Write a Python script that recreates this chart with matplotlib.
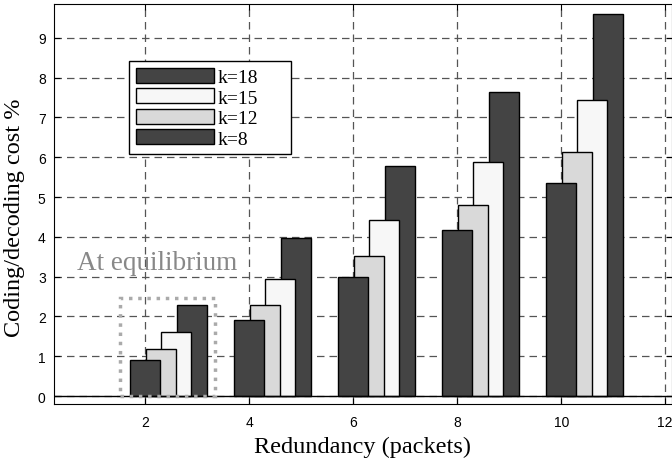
import matplotlib
matplotlib.use("Agg")
import matplotlib.pyplot as plt
from matplotlib.patches import Rectangle

# values
redundancy = [2, 4, 6, 8, 10]
cost_k8 = [0.90, 1.90, 2.99, 4.18, 5.36]
cost_k12 = [1.17, 2.28, 3.51, 4.79, 6.12]
cost_k15 = [1.61, 2.93, 4.42, 5.88, 7.45]
cost_k18 = [2.28, 3.98, 5.78, 7.64, 9.59]

dark = "#444444"
light = "#d9d9d9"
white = "#f7f7f7"

fig = plt.figure(figsize=(6.72, 4.60), dpi=100)
ax = fig.add_axes([54 / 672, 1 - 405 / 460, 618 / 672, 400 / 460])

ax.grid(True, linestyle=(0, (6, 4)), color="#555555", linewidth=0.9)
ax.set_axisbelow(True)

width = 0.58
# drawn back to front: k=18 (right) is behind, k=8 (left) in front
series = [
    (cost_k18, 0.9, dark, "k=18"),
    (cost_k15, 0.6, white, "k=15"),
    (cost_k12, 0.3, light, "k=12"),
    (cost_k8, 0.0, dark, "k=8"),
]
for vals, off, col, lab in series:
    ax.bar([r + off for r in redundancy], vals, width=width, color=col,
           edgecolor="black", linewidth=1.0, label=lab, zorder=3)

ax.axhline(0, color="black", linewidth=1.0, zorder=4)

# dotted box around the equilibrium group
ax.add_patch(Rectangle((1.51, 0), 1.84, 2.46, fill=False, linestyle=":",
                       edgecolor="#aaaaaa", linewidth=2.5, zorder=5))
ax.text(2.23, 3.35, "At equilibrium", color="#888888", fontsize=19.5,
        family="Liberation Serif", ha="center", va="center", zorder=6)

ax.set_xlim(0.25, 12.13)
ax.set_ylim(-0.2, 9.85)
ax.set_xticks([2, 4, 6, 8, 10, 12])
ax.set_yticks(range(0, 10))
ax.tick_params(direction="in", top=True, right=True, labelsize=10, length=4)
ax.tick_params(axis="x", pad=8)
ax.tick_params(axis="y", pad=6)
for t in ax.get_xticklabels() + ax.get_yticklabels():
    t.set_family("Liberation Sans")

ax.set_xlabel("Redundancy (packets)", family="Liberation Serif", fontsize=17.5,
              labelpad=4.5)
ax.set_ylabel("Coding/decoding cost %", family="Liberation Serif", fontsize=17.5)
ax.yaxis.set_label_coords(-0.047, 0.4675)

leg = ax.legend(loc="upper left",
                bbox_to_anchor=(129 / 672, 1 - 152 / 460, 162 / 672, 90 / 460),
                bbox_transform=fig.transFigure, borderaxespad=0, mode="expand",
                prop={"family": "Liberation Serif", "size": 14},
                fancybox=False, edgecolor="black", framealpha=1,
                handlelength=4.0, handleheight=0.8, labelspacing=0.12,
                handletextpad=0.2, borderpad=0.35)
leg.get_frame().set_linewidth(1.0)
leg.set_zorder(10)

fig.savefig("out.png", dpi=100)
